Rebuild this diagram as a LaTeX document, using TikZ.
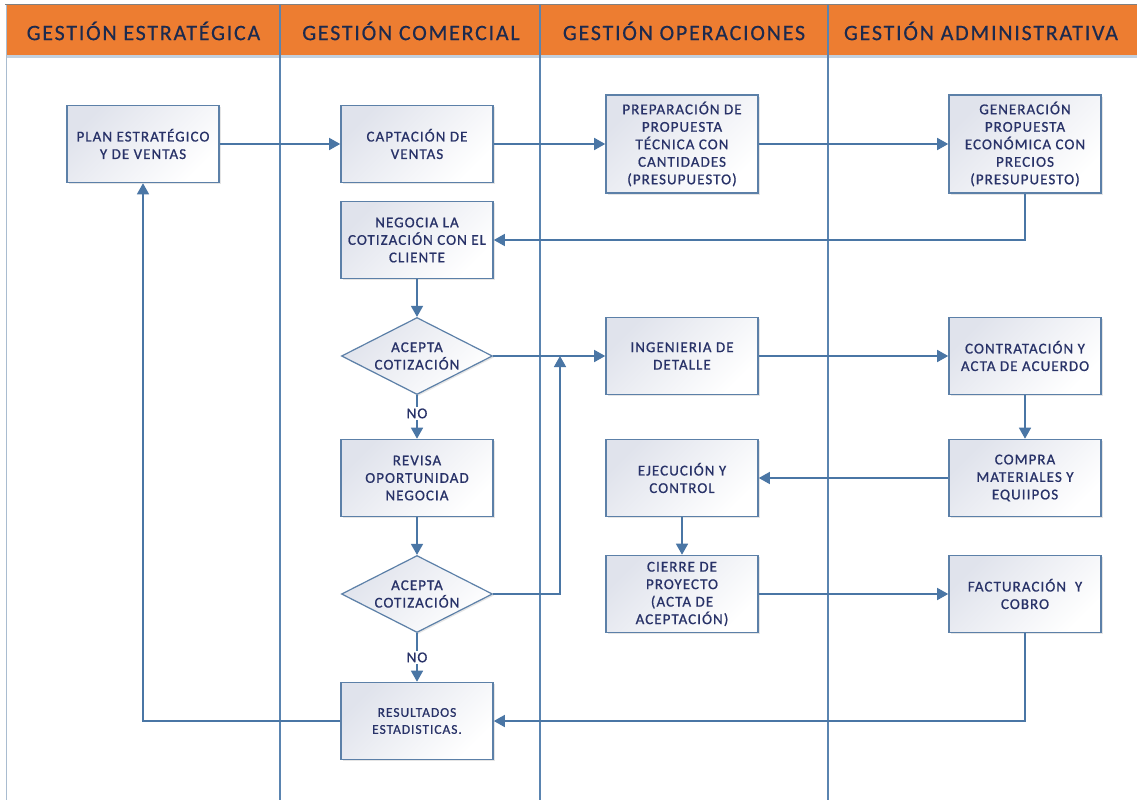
\documentclass[tikz,border=0pt]{standalone}
\usepackage{fontspec}
\setmainfont{Carlito}
\newfontfamily\boxfont[LetterSpace=7,FakeBold=0.8]{Carlito}
\newfontfamily\headfont[LetterSpace=8,FakeBold=0.5]{Carlito}
\usetikzlibrary{shapes.geometric,arrows.meta,shadows}
\definecolor{hdrorange}{HTML}{ED7D31}
\definecolor{hdrtext}{HTML}{1C2A4E}
\definecolor{lanecol}{HTML}{5A84B0}
\definecolor{conncol}{HTML}{4A76A5}
\definecolor{boxborder}{HTML}{5C80A8}
\definecolor{boxshade}{HTML}{E0E3EC}
\definecolor{txtcol}{HTML}{283268}
\definecolor{edgecol}{HTML}{A9BCD0}
\begin{document}
\begin{tikzpicture}[x=1pt,y=-1pt,
  stepbox/.style={draw=boxborder, line width=1.6pt, minimum width=152pt, minimum height=77pt,
    inner sep=0pt, align=center, top color=boxshade, bottom color=white, shading angle=45,
    text=txtcol, font=\boxfont\fontsize{15}{17.5}\selectfont,
    drop shadow={opacity=0.2, shadow xshift=1.5pt, shadow yshift=-1.5pt}},
  tallbox/.style={stepbox, minimum height=98pt},
  decision/.style={stepbox, diamond, aspect=2, minimum width=151pt, minimum height=77pt, line width=1.2pt},
  conn/.style={draw=conncol, line width=1.5pt, -{Triangle[length=11pt,width=12pt]}},
  lbl/.style={fill=white, inner sep=1.5pt, text=txtcol, font=\boxfont\fontsize{15}{17}\selectfont},
  hdr/.style={text=hdrtext, font=\headfont\fontsize{22}{25}\selectfont, inner sep=0pt},
  lane/.style={draw=lanecol, line width=1.8pt}
]
\useasboundingbox (0,0) rectangle (1137,800);
\fill[white] (0,0) rectangle (1137,800);
% header
\fill[hdrorange] (7,5) rectangle (1137,55);
\draw[edgecol!70, line width=2.5pt] (7,56.5) -- (1137,56.5);
\draw[gray, line width=1.6pt] (5,4.5) -- (1137,4.5);
\draw[edgecol, line width=1pt] (6.5,5) -- (6.5,800);
\node[hdr] (h1) at (143.5,31) {GESTIÓN ESTRATÉGICA};
\node[hdr] (h2) at (411,31) {GESTIÓN COMERCIAL};
\node[hdr] (h3) at (684,31) {GESTIÓN OPERACIONES};
\node[hdr] (h4) at (981,31) {GESTIÓN ADMINISTRATIVA};
% lanes
\draw[lane] (280,5) -- (280,800);
\draw[lane] (540,5) -- (540,800);
\draw[lane] (828,5) -- (828,800);
% nodes
\node[stepbox] (plan) at (143,144) {PLAN ESTRATÉGICO\\Y DE VENTAS};
\node[stepbox] (capt) at (417,144) {CAPTACIÓN DE\\VENTAS};
\node[tallbox] (prep) at (682,144) {PREPARACIÓN DE\\PROPUESTA\\TÉCNICA CON\\CANTIDADES\\(PRESUPUESTO)};
\node[tallbox] (gen) at (1025,144) {GENERACIÓN\\PROPUESTA\\ECONÓMICA CON\\PRECIOS\\(PRESUPUESTO)};
\node[stepbox] (neg) at (417,240) {NEGOCIA LA\\COTIZACIÓN CON EL\\CLIENTE};
\node[decision] (d1) at (417,356) {ACEPTA\\COTIZACIÓN};
\node[stepbox] (ing) at (682,356) {INGENIERIA DE\\DETALLE};
\node[stepbox] (con) at (1025,356) {CONTRATACIÓN Y\\ACTA DE ACUERDO};
\node[stepbox] (rev) at (417,478) {REVISA\\OPORTUNIDAD\\NEGOCIA};
\node[stepbox] (eje) at (682,478) {EJECUCIÓN Y\\CONTROL};
\node[stepbox] (com) at (1025,478) {COMPRA\\MATERIALES Y\\EQUIIPOS};
\node[decision] (d2) at (417,594) {ACEPTA\\COTIZACIÓN};
\node[stepbox] (cie) at (682,594) {CIERRE DE\\PROYECTO\\(ACTA DE\\ACEPTACIÓN)};
\node[stepbox] (fac) at (1025,594) {FACTURACIÓN\ \ Y\\COBRO};
\node[stepbox, font=\boxfont\fontsize{13.5}{17}\selectfont] (res) at (417,721) {RESULTADOS\\ESTADISTICAS.};
\coordinate (j) at (560,356);
% connectors
\draw[conn] (plan.east) -- (capt.west);
\draw[conn] (capt.east) -- (prep.west);
\draw[conn] (prep.east) -- (gen.west);
\draw[conn] (gen.south) |- (neg.east);
\draw[conn] (neg.south) -- (d1.north);
\draw[conn] (d1.east) -- (ing.west);
\draw[conn] (d1.south) -- node[lbl, pos=0.42] (no1) {NO} (rev.north);
\draw[conn] (rev.south) -- (d2.north);
\draw[conn] (d2.east) -| (j);
\draw[conn] (d2.south) -- node[lbl, pos=0.5] (no2) {NO} (res.north);
\draw[conn] (ing.east) -- (con.west);
\draw[conn] (con.south) -- (com.north);
\draw[conn] (com.west) -- (eje.east);
\draw[conn] (eje.south) -- (cie.north);
\draw[conn] (cie.east) -- (fac.west);
\draw[conn] (fac.south) |- (res.east);
\draw[conn] (res.west) -| (plan.south);
\end{tikzpicture}
\end{document}
